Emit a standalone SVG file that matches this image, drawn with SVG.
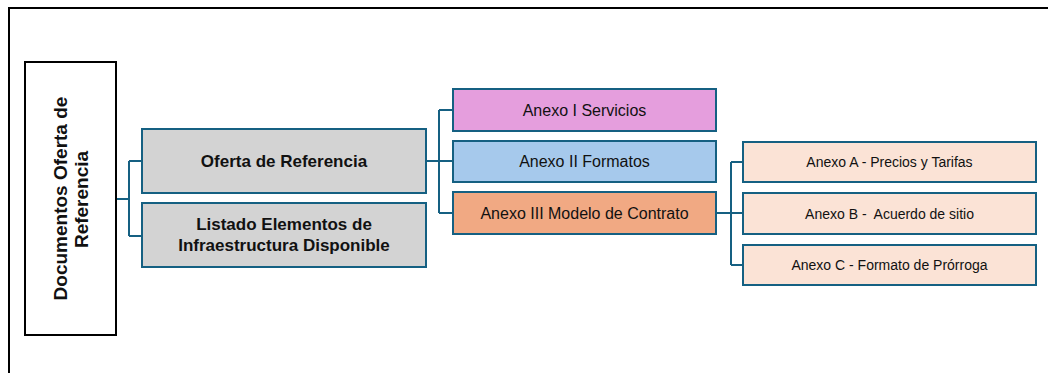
<svg xmlns="http://www.w3.org/2000/svg" width="1048" height="373" viewBox="0 0 1048 373">
<style>
.box{stroke:#156082;stroke-width:2}
.con{fill:none;stroke:#156082;stroke-width:2}
.t{font-family:"Liberation Sans",Arial,sans-serif;fill:#111;text-anchor:middle;dominant-baseline:central;white-space:pre}
.b{font-weight:bold;font-size:17px}
.m{font-size:16px}
.s{font-size:14px}
</style>
<rect x="0" y="0" width="1048" height="373" fill="#ffffff"/>
<path d="M9 373 V8 H1048" fill="none" stroke="#000" stroke-width="2"/>
<g id="connectors">
<path class="con" d="M116 199 H129 M129 161 V236 M129 161 H142 M129 236 H142"/>
<path class="con" d="M426 161 H439 M439 110 V213 M439 110 H453 M439 161 H453 M439 213 H453"/>
<path class="con" d="M716 213 H731 M731 162 V265 M731 162 H743 M731 213 H743 M731 265 H743"/>
</g>
<g id="node-root">
<rect x="25" y="62" width="91" height="273" fill="#fff" stroke="#000" stroke-width="2"/>
<text class="t b" style="font-size:19px;dominant-baseline:alphabetic" transform="translate(67,198.5) rotate(-90)">Documentos Oferta de</text>
<text class="t b" style="font-size:19px;dominant-baseline:alphabetic" transform="translate(88,199.5) rotate(-90)">Referencia</text>
</g>
<g id="node-oferta">
<rect class="box" x="142" y="129" width="284" height="64" fill="#d3d3d3"/>
<text class="t b" x="284" y="161">Oferta de Referencia</text>
</g>
<g id="node-listado">
<rect class="box" x="142" y="203" width="284" height="64" fill="#d3d3d3"/>
<text class="t b" x="284" y="224">Listado Elementos de</text>
<text class="t b" x="284" y="245">Infraestructura Disponible</text>
</g>
<g id="node-anexo1">
<rect class="box" x="453" y="89" width="263" height="42" fill="#e59edd"/>
<text class="t m" x="584.5" y="110">Anexo I Servicios</text>
</g>
<g id="node-anexo2">
<rect class="box" x="453" y="141" width="263" height="41" fill="#a6c9ec"/>
<text class="t m" x="584.5" y="161.5">Anexo II Formatos</text>
</g>
<g id="node-anexo3">
<rect class="box" x="453" y="192" width="263" height="42" fill="#f1a983"/>
<text class="t m" x="584.5" y="213">Anexo III Modelo de Contrato</text>
</g>
<g id="node-anexoA">
<rect class="box" x="743" y="142" width="293" height="40" fill="#fbe3d6"/>
<text class="t s" x="889.5" y="162">Anexo A - Precios y Tarifas</text>
</g>
<g id="node-anexoB">
<rect class="box" x="743" y="193" width="293" height="41" fill="#fbe3d6"/>
<text class="t s" x="889.5" y="213.5">Anexo B -  Acuerdo de sitio</text>
</g>
<g id="node-anexoC">
<rect class="box" x="743" y="245" width="293" height="40" fill="#fbe3d6"/>
<text class="t s" x="889.5" y="265">Anexo C - Formato de Prórroga</text>
</g>
</svg>
